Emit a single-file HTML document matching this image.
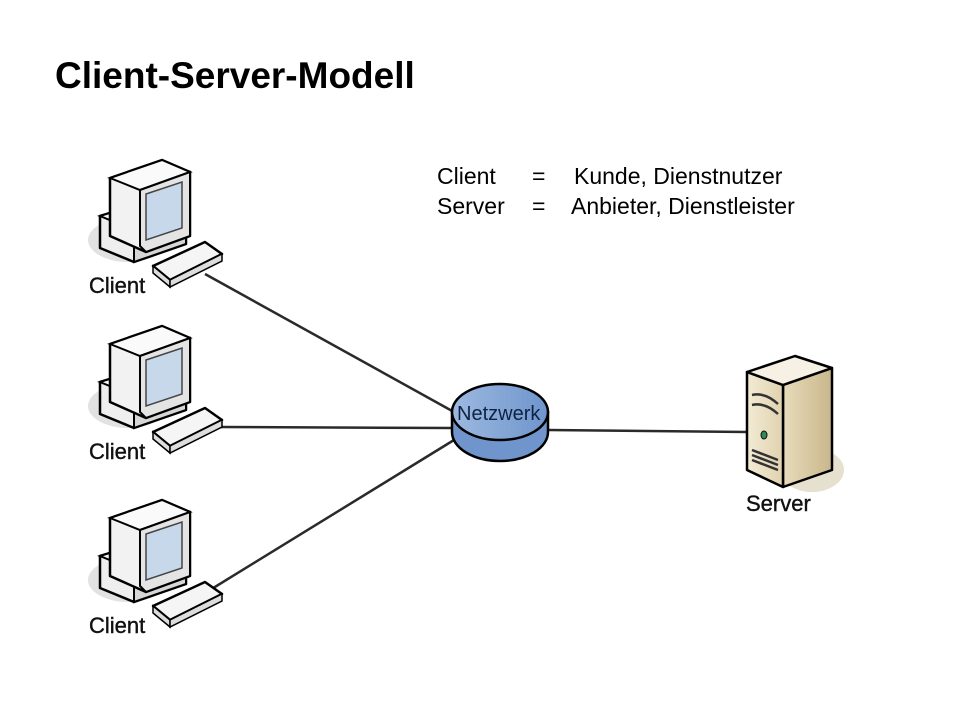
<!DOCTYPE html>
<html><head><meta charset="utf-8"><style>
html,body{margin:0;padding:0;background:#fff;}
svg{display:block;}
text{font-family:"Liberation Sans",Arial,sans-serif;}
</style></head><body>
<svg width="960" height="720" viewBox="0 0 960 720" xmlns="http://www.w3.org/2000/svg">
<defs>
<linearGradient id="net" x1="0" y1="0" x2="1" y2="0">
<stop offset="0" stop-color="#9cb9e0"/><stop offset="1" stop-color="#6f95cc"/></linearGradient>
<linearGradient id="srvf" x1="0" y1="0" x2="1" y2="0">
<stop offset="0" stop-color="#f3ebd6"/><stop offset="1" stop-color="#e0d2ae"/></linearGradient>
<linearGradient id="srvs" x1="0" y1="0" x2="1" y2="0">
<stop offset="0" stop-color="#e8dcbc"/><stop offset="1" stop-color="#c9b68a"/></linearGradient>
<g id="client">
<ellipse cx="128" cy="240" rx="40" ry="22" fill="#e2e2e2"/>
<polygon points="100,216 152,200 186,212 186,244 134,262 100,248" fill="#eeeeee" stroke="#000" stroke-width="2.5" stroke-linejoin="round"/>
<polygon points="134,230 186,212 186,244 134,262" fill="#d6d6d6" stroke="#000" stroke-width="2"/>
<polygon points="100,216 152,200 186,212 134,230" fill="#f7f7f7" stroke="#000" stroke-width="2"/>
<polygon points="110,178 162,160 190,172 190,236 146,252 110,236" fill="#f2f2f2" stroke="#000" stroke-width="2.5" stroke-linejoin="round"/>
<polygon points="110,178 162,160 190,172 140,190" fill="#fafafa" stroke="#000" stroke-width="2"/>
<polygon points="140,190 190,172 190,236 146,252 140,246" fill="#e4e4e4" stroke="#000" stroke-width="2"/>
<polygon points="146,194 182,182 182,228 146,240" fill="#c7d8ea" stroke="#444" stroke-width="1.5"/>
<polygon points="153,266 205,242 222,254 170,280" fill="#f5f5f5" stroke="#000" stroke-width="2.5" stroke-linejoin="round"/>
<polygon points="153,266 170,280 170,287 153,273" fill="#ddd" stroke="#000" stroke-width="1.5"/>
<polygon points="170,280 222,254 222,261 170,287" fill="#ddd" stroke="#000" stroke-width="1.5"/>
<text x="89" y="293" font-size="22" fill="#111" stroke="#111" stroke-width="0.4">Client</text>
</g>
</defs>

<text x="55" y="88" font-size="37" font-weight="bold" fill="#000">Client-Server-Modell</text>
<text x="437" y="184" font-size="23" fill="#000">Client</text>
<text x="532" y="184" font-size="23" fill="#000">=</text>
<text x="574" y="184" font-size="23" fill="#000">Kunde, Dienstnutzer</text>
<text x="437" y="214" font-size="23" fill="#000">Server</text>
<text x="532" y="214" font-size="23" fill="#000">=</text>
<text x="571" y="214" font-size="23" fill="#000">Anbieter, Dienstleister</text>

<g stroke="#2a2a2a" stroke-width="2.5">
<line x1="205" y1="274" x2="454" y2="412"/>
<line x1="220" y1="427" x2="452" y2="428"/>
<line x1="210" y1="590" x2="454" y2="440"/>
<line x1="548" y1="430" x2="747" y2="432"/>
</g>

<use href="#client"/>
<use href="#client" transform="translate(0,166)"/>
<use href="#client" transform="translate(0,340)"/>

<path d="M452,412 L452,432 A48,29 0 0 0 548,432 L548,412 Z" fill="#6f95cc" stroke="#000" stroke-width="2.5"/>
<ellipse cx="500" cy="412" rx="48" ry="28" fill="url(#net)" stroke="#000" stroke-width="2.5"/>
<text x="457" y="420" font-size="20" fill="#0e2244">Netzwerk</text>

<ellipse cx="812" cy="470" rx="32" ry="22" fill="#e6e0cf"/>
<polygon points="783,385 832,368 832,470 783,487" fill="url(#srvs)" stroke="#000" stroke-width="2.5" stroke-linejoin="round"/>
<polygon points="747,372 783,385 783,487 747,470" fill="url(#srvf)" stroke="#000" stroke-width="2.5" stroke-linejoin="round"/>
<polygon points="747,372 795,356 832,368 783,385" fill="#f6f1e4" stroke="#000" stroke-width="2.5" stroke-linejoin="round"/>
<g stroke="#333" stroke-width="2.5" fill="none">
<path d="M752,395 Q765,392 778,404"/>
<path d="M752,405 Q765,402 778,414"/>
<path d="M752,450 L778,460"/><path d="M752,455 L778,465"/><path d="M752,460 L778,470"/>
</g>
<ellipse cx="764" cy="435" rx="3" ry="4" fill="#2d8a5a" stroke="#111" stroke-width="1"/>
<text x="746" y="511" font-size="22" fill="#111" stroke="#111" stroke-width="0.4">Server</text>
</svg>
</body></html>
